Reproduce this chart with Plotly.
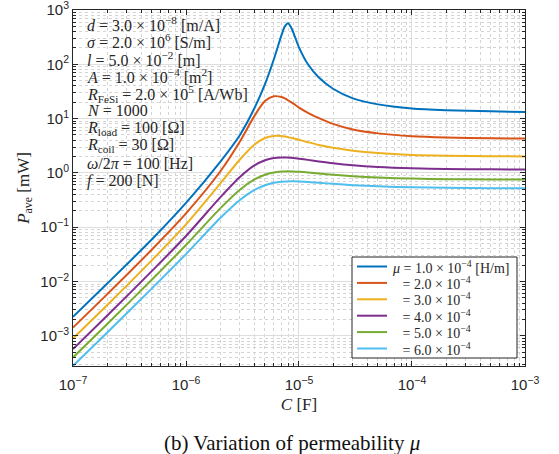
import plotly.graph_objects as go

# Capacitance sweep [F]
C_F = [1e-7, 2e-7, 5e-7, 1e-6, 2e-6, 3e-6, 4e-6, 5e-6, 6e-6, 7e-6, 7.5e-6, 8e-6,
       8.5e-6, 9e-6, 1e-5, 1.2e-5, 1.5e-5, 2e-5, 3e-5, 5e-5, 1e-4, 2e-4, 5e-4, 1e-3]

# Average power [mW] for each permeability
P_mu1 = [2.24e-3, 9.1e-3, 0.060, 0.28, 1.58, 5.0, 15.0, 43, 125, 345, 500, 570,
         480, 365, 205, 100, 57, 35.5, 23.6, 18.3, 15.4, 14.3, 13.6, 13.3]
P_mu2 = [1.42e-3, 5.8e-3, 0.039, 0.18, 1.05, 3.8, 10.9, 21.0, 25.8, 25.0, 23.6, 21.8,
         20.2, 18.7, 16.0, 12.8, 10.2, 8.0, 6.3, 5.35, 4.72, 4.48, 4.35, 4.3]
P_mu3 = [8.95e-4, 3.65e-3, 0.0248, 0.113, 0.63, 1.77, 3.28, 4.4, 4.8, 4.77, 4.68, 4.56,
         4.43, 4.31, 4.07, 3.68, 3.28, 2.91, 2.57, 2.32, 2.15, 2.08, 2.03, 2.01]
P_mu4 = [5.7e-4, 2.34e-3, 0.0157, 0.069, 0.35, 0.84, 1.36, 1.71, 1.88, 1.93, 1.93, 1.915,
         1.90, 1.875, 1.83, 1.74, 1.63, 1.51, 1.385, 1.29, 1.22, 1.185, 1.165, 1.157]
P_mu5 = [4.0e-4, 1.64e-3, 0.0109, 0.047, 0.22, 0.49, 0.75, 0.927, 1.02, 1.06, 1.068, 1.07,
         1.068, 1.064, 1.052, 1.022, 0.979, 0.927, 0.87, 0.822, 0.786, 0.768, 0.757, 0.753]
P_mu6 = [2.8e-4, 1.14e-3, 7.5e-3, 0.032, 0.146, 0.317, 0.48, 0.594, 0.657, 0.688, 0.695, 0.699,
         0.70, 0.70, 0.695, 0.681, 0.659, 0.629, 0.595, 0.566, 0.543, 0.532, 0.525, 0.522]

series = [P_mu1, P_mu2, P_mu3, P_mu4, P_mu5, P_mu6]
NBSP = "\u00a0"
legend_names = [
    "<i>μ</i> = 1.0 × 10<sup>−4</sup> [H/m]",
    NBSP * 3 + "= 2.0 × 10<sup>−4</sup>",
    NBSP * 3 + "= 3.0 × 10<sup>−4</sup>",
    NBSP * 3 + "= 4.0 × 10<sup>−4</sup>",
    NBSP * 3 + "= 5.0 × 10<sup>−4</sup>",
    NBSP * 3 + "= 6.0 × 10<sup>−4</sup>",
]
colors = ["#0072BD", "#D95319", "#EDB120", "#7E2F8E", "#77AC30", "#4DBEEE"]

x_ticks = [1e-7, 1e-6, 1e-5, 1e-4, 1e-3]
x_ticktext = ["10<sup>−7</sup>", "10<sup>−6</sup>", "10<sup>−5</sup>",
              "10<sup>−4</sup>", "10<sup>−3</sup>"]
y_ticks = [1e-3, 1e-2, 1e-1, 1e0, 1e1, 1e2, 1e3]
y_ticktext = ["10<sup>−3</sup>", "10<sup>−2</sup>", "10<sup>−1</sup>", "10<sup>0</sup>",
              "10<sup>1</sup>", "10<sup>2</sup>", "10<sup>3</sup>"]

param_lines = [
    "<i>d</i> = 3.0 × 10<sup>−8</sup> [m/A]",
    "<i>σ</i> = 2.0 × 10<sup>6</sup> [S/m]",
    "<i>l</i> = 5.0 × 10<sup>−2</sup> [m]",
    "<i>A</i> = 1.0 × 10<sup>−4</sup> [m<sup>2</sup>]",
    "<i>R</i><sub>FeSi</sub> = 2.0 × 10<sup>5</sup> [A/Wb]",
    "<i>N</i> = 1000",
    "<i>R</i><sub>load</sub> = 100 [Ω]",
    "<i>R</i><sub>coil</sub> = 30 [Ω]",
    "<i>ω</i>/2<i>π</i> = 100 [Hz]",
    "<i>f</i> = 200 [N]",
]

W, H = 559, 454
ML, MR, MT, MB = 73, 34, 10, 88
PW, PH = W - ML - MR, H - MT - MB


def px_x(px):
    return (px - ML) / PW


def px_y(py):
    return (H - MB - py) / PH


def minor_vals(lo, hi):
    vals = []
    for e in range(lo, hi):
        for m in range(2, 10):
            vals.append(m * 10.0 ** e)
    return vals


SERIF = "Liberation Serif"
SANS = "Liberation Sans"
AX = "#262626"

fig = go.Figure()
for vals, name, col in zip(series, legend_names, colors):
    fig.add_trace(go.Scatter(
        x=C_F, y=vals, mode="lines", name=name, showlegend=False,
        line=dict(color=col, width=2, shape="spline", smoothing=0.8),
    ))

axis_common = dict(
    type="log", showline=True, linecolor=AX, linewidth=1, mirror="allticks",
    ticks="inside", ticklen=5, tickcolor=AX, tickwidth=1,
    showgrid=True, gridcolor="#dedede", gridwidth=1, zeroline=False,
    tickfont=dict(family=SANS, size=15, color="#262626"),
    ticklabeloverflow="allow", automargin=False,
)

fig.update_xaxes(
    **axis_common, range=[-7, -2.9999], tickmode="array", tickvals=x_ticks, ticktext=x_ticktext,
    ticklabelstandoff=5,
    minor=dict(tickmode="array", tickvals=minor_vals(-7, -3), ticks="inside", ticklen=3,
               tickcolor=AX, showgrid=True, gridcolor="#d4d4d4", griddash="dot", gridwidth=1),
    title=dict(text="<i>C</i> [F]", font=dict(family=SERIF, size=17, color="#262626"), standoff=6),
)
fig.update_yaxes(
    **axis_common, range=[-3.555, 3.0001], tickmode="array", tickvals=y_ticks, ticktext=y_ticktext,
    minor=dict(tickmode="array", tickvals=minor_vals(-4, 3), ticks="inside", ticklen=3,
               tickcolor=AX, showgrid=True, gridcolor="#d4d4d4", griddash="dot", gridwidth=1),
    title=dict(text="<i>P</i><sub>ave</sub> [mW]", font=dict(family=SERIF, size=17, color="#262626"),
               standoff=6),
)

# parameter block in the upper-left corner
line_y = [24 + 17.4 * i for i in range(len(param_lines))]
for txt, py in zip(param_lines, line_y):
    fig.add_annotation(
        text=txt, xref="paper", yref="paper", x=px_x(85), y=px_y(py),
        xanchor="left", yanchor="middle", showarrow=False,
        font=dict(family=SERIF, size=16, color="#262626"),
    )

# legend box (lower right), drawn in paper space
LEG_L, LEG_R, LEG_T, LEG_B = 352, 517, 257, 358
ROW0, ROW_STEP = 266.5, 16.4
fig.add_shape(type="rect", xref="paper", yref="paper",
              x0=px_x(LEG_L), x1=px_x(LEG_R), y0=px_y(LEG_B), y1=px_y(LEG_T),
              line=dict(color=AX, width=1), fillcolor="white", layer="above")
for i, (name, col) in enumerate(zip(legend_names, colors)):
    ry = ROW0 + ROW_STEP * i
    fig.add_shape(type="line", xref="paper", yref="paper",
                  x0=px_x(357), x1=px_x(387), y0=px_y(ry), y1=px_y(ry),
                  line=dict(color=col, width=2), layer="above")
    fig.add_annotation(
        text=name, xref="paper", yref="paper", x=px_x(390), y=px_y(ry),
        xanchor="left", yanchor="middle", showarrow=False,
        font=dict(family=SERIF, size=14, color="#262626"),
    )

# caption
fig.add_annotation(
    text="(b) Variation of permeability <i>μ</i>", xref="paper", yref="paper",
    x=px_x(292), y=px_y(443), xanchor="center", yanchor="middle", showarrow=False,
    font=dict(family=SERIF, size=21, color="#111111"),
)

fig.update_layout(
    width=W, height=H, margin=dict(l=ML, r=MR, t=MT, b=MB, autoexpand=False),
    plot_bgcolor="white", paper_bgcolor="white",
    showlegend=False,
)

fig.write_html("out.html")
